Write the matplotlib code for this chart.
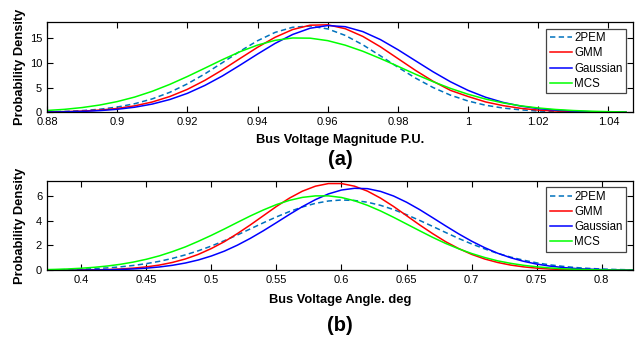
import matplotlib
matplotlib.use("Agg")
import matplotlib.pyplot as plt

plt.rcParams['font.family'] = ['Liberation Sans', 'DejaVu Sans']

# ---------------- data ----------------
series_names = ["2PEM", "GMM", "Gaussian", "MCS"]

# (a) Bus voltage magnitude, p.u.
mag_x = [0.880, 0.885, 0.890, 0.895, 0.900, 0.905, 0.910, 0.915, 0.920, 0.925,
         0.930, 0.935, 0.940, 0.945, 0.950, 0.955, 0.960, 0.965, 0.970, 0.975,
         0.980, 0.985, 0.990, 0.995, 1.000, 1.005, 1.010, 1.015, 1.020, 1.025,
         1.030, 1.035, 1.040, 1.045]
mag_2pem = [0.09, 0.18, 0.34, 0.62, 1.06, 1.74, 2.72, 4.05, 5.76, 7.79,
            10.06, 12.37, 14.5, 16.19, 17.23, 17.48, 16.9, 15.58, 13.68, 11.45,
            9.14, 6.94, 5.03, 3.47, 2.29, 1.43, 0.86, 0.49, 0.26, 0.14,
            0.07, 0.03, 0.02, 0.01]
mag_gmm = [0.06, 0.13, 0.24, 0.45, 0.78, 1.31, 2.09, 3.2, 4.65, 6.48,
           8.6, 10.9, 13.17, 15.2, 16.77, 17.65, 17.73, 16.94, 15.38, 13.28,
           10.89, 8.5, 6.3, 4.44, 3.2, 2.1, 1.35, 0.8, 0.45, 0.25,
           0.13, 0.06, 0.03, 0.01]
mag_gauss = [0.05, 0.09, 0.18, 0.34, 0.61, 1.03, 1.67, 2.59, 3.84, 5.45,
             7.37, 9.55, 11.8, 13.96, 15.77, 17.04, 17.58, 17.35, 16.35, 14.74,
             12.69, 10.45, 8.22, 6.18, 4.44, 3.05, 2.0, 1.26, 0.75, 0.43,
             0.24, 0.12, 0.06, 0.03]
mag_mcs = [0.37, 0.60, 0.96, 1.47, 2.17, 3.09, 4.26, 5.66, 7.25, 8.95,
           10.67, 12.28, 13.62, 14.58, 15.06, 15.02, 14.52, 13.6, 12.37, 10.9,
           9.33, 7.72, 6.21, 4.84, 3.66, 2.68, 1.9, 1.31, 0.88, 0.57,
           0.36, 0.22, 0.13, 0.07]
mag_xticks = [0.88, 0.90, 0.92, 0.94, 0.96, 0.98, 1.00, 1.02, 1.04]
mag_xticklabels = ["0.88", "0.9", "0.92", "0.94", "0.96", "0.98", "1", "1.02", "1.04"]
mag_yticks = [0, 5, 10, 15]

# (b) Bus voltage angle, deg
ang_x = [0.37, 0.38, 0.39, 0.40, 0.41, 0.42, 0.43, 0.44, 0.45, 0.46,
         0.47, 0.48, 0.49, 0.50, 0.51, 0.52, 0.53, 0.54, 0.55, 0.56,
         0.57, 0.58, 0.59, 0.60, 0.61, 0.62, 0.63, 0.64, 0.65, 0.66,
         0.67, 0.68, 0.69, 0.70, 0.71, 0.72, 0.73, 0.74, 0.75, 0.76,
         0.77, 0.78, 0.79, 0.80, 0.81, 0.82, 0.83]
ang_2pem = [0.023, 0.037, 0.058, 0.088, 0.131, 0.192, 0.276, 0.388, 0.534, 0.72,
            0.955, 1.24, 1.57, 1.95, 2.38, 2.84, 3.33, 3.82, 4.29, 4.72,
            5.09, 5.38, 5.57, 5.65, 5.61, 5.47, 5.22, 4.88, 4.47, 4.01,
            3.53, 3.04, 2.56, 2.12, 1.72, 1.36, 1.06, 0.81, 0.60, 0.44,
            0.32, 0.22, 0.153, 0.103, 0.068, 0.044, 0.028]
ang_gmm = [0.003, 0.006, 0.011, 0.02, 0.036, 0.063, 0.106, 0.174, 0.275, 0.42,
           0.63, 0.91, 1.28, 1.75, 2.30, 2.95, 3.65, 4.39, 5.13, 5.80,
           6.36, 6.76, 6.97, 6.97, 6.76, 6.36, 5.80, 5.13, 4.39, 3.65,
           2.95, 2.30, 1.75, 1.28, 0.91, 0.63, 0.42, 0.275, 0.174, 0.106,
           0.063, 0.036, 0.02, 0.011, 0.006, 0.003, 0.001]
ang_gauss = [0.002, 0.004, 0.007, 0.013, 0.023, 0.04, 0.067, 0.109, 0.173, 0.267,
             0.40, 0.585, 0.83, 1.15, 1.54, 2.02, 2.57, 3.18, 3.83, 4.49,
             5.12, 5.68, 6.14, 6.45, 6.59, 6.56, 6.34, 5.97, 5.47, 4.88,
             4.23, 3.57, 2.93, 2.34, 1.82, 1.37, 1.01, 0.72, 0.50, 0.34,
             0.225, 0.144, 0.09, 0.055, 0.032, 0.019, 0.01]
ang_mcs = [0.047, 0.073, 0.11, 0.165, 0.24, 0.344, 0.48, 0.66, 0.885, 1.16,
           1.50, 1.88, 2.33, 2.81, 3.32, 3.85, 4.37, 4.85, 5.28, 5.62,
           5.86, 5.98, 5.98, 5.85, 5.59, 5.22, 4.77, 4.26, 3.72, 3.18,
           2.65, 2.16, 1.73, 1.35, 1.03, 0.76, 0.56, 0.40, 0.28, 0.19,
           0.125, 0.08, 0.052, 0.032, 0.02, 0.012, 0.007]
ang_xticks = [0.40, 0.45, 0.50, 0.55, 0.60, 0.65, 0.70, 0.75, 0.80]
ang_xticklabels = ["0.4", "0.45", "0.5", "0.55", "0.6", "0.65", "0.7", "0.75", "0.8"]
ang_yticks = [0, 2, 4, 6]

# ---------------- styling ----------------
styles = [
    dict(color="#0072BD", linestyle=(0, (3.5, 2.2)), linewidth=1.1),
    dict(color="#FF0000", linestyle="-", linewidth=1.1),
    dict(color="#0000FF", linestyle="-", linewidth=1.1),
    dict(color="#00FF00", linestyle="-", linewidth=1.1),
]

W, H = 644, 341
fig = plt.figure(figsize=(W / 100, H / 100), dpi=100)


def px_axes(left, top, right, bottom):
    return fig.add_axes([left / W, 1 - bottom / H, (right - left) / W, (bottom - top) / H])


def setup(ax, xlim, ylim, xticks, xticklabels, yticks, xlabel, xlabel_y):
    ax.set_xlim(*xlim)
    ax.set_ylim(*ylim)
    ax.set_xticks(xticks)
    ax.set_xticklabels(xticklabels)
    ax.set_yticks(yticks)
    ax.tick_params(direction="in", top=True, right=True, length=4, width=0.8,
                   labelsize=8, pad=3.5, colors="black")
    for s in ax.spines.values():
        s.set_linewidth(0.9)
        s.set_color("black")
    ax.set_xlabel(xlabel, fontsize=9.3, fontweight="bold", va="center")
    ax.xaxis.set_label_coords(0.5, xlabel_y)
    ax.set_ylabel("Probability Density", fontsize=9.3, fontweight="bold", va="center")
    ax.yaxis.set_label_coords(-0.046, 0.5)


def legend(ax, top_frac):
    leg = ax.legend(loc="upper right", bbox_to_anchor=(0.988, top_frac), borderaxespad=0,
                    fontsize=8.3, frameon=True, fancybox=False, framealpha=1,
                    edgecolor="#444444", handlelength=1.9, handletextpad=0.2,
                    labelspacing=0.28, borderpad=0.3)
    leg.get_frame().set_linewidth(0.9)


# (a)
ax1 = px_axes(47, 21.5, 633, 112.3)
for ys, name, st in zip([mag_2pem, mag_gmm, mag_gauss, mag_mcs], series_names, styles):
    ax1.plot(mag_x, ys, label=name, **st)
setup(ax1, (0.88, 1.047), (0, 18.4), mag_xticks, mag_xticklabels, mag_yticks,
      "Bus Voltage Magnitude P.U.", -0.305)
legend(ax1, 0.921)

# (b)
ax2 = px_axes(47, 180.7, 633, 270.3)
for ys, name, st in zip([ang_2pem, ang_gmm, ang_gauss, ang_mcs], series_names, styles):
    ax2.plot(ang_x, ys, label=name, **st)
setup(ax2, (0.3737, 0.824), (0, 7.2), ang_xticks, ang_xticklabels, ang_yticks,
      "Bus Voltage Angle. deg", -0.326)
legend(ax2, 0.926)

fig.text(340 / W, 1 - 159.7 / H, "(a)", fontsize=14.5, fontweight="bold", ha="center", va="center")
fig.text(340 / W, 1 - 325.5 / H, "(b)", fontsize=14.5, fontweight="bold", ha="center", va="center")

fig.savefig("out.png", dpi=100, facecolor="white")
